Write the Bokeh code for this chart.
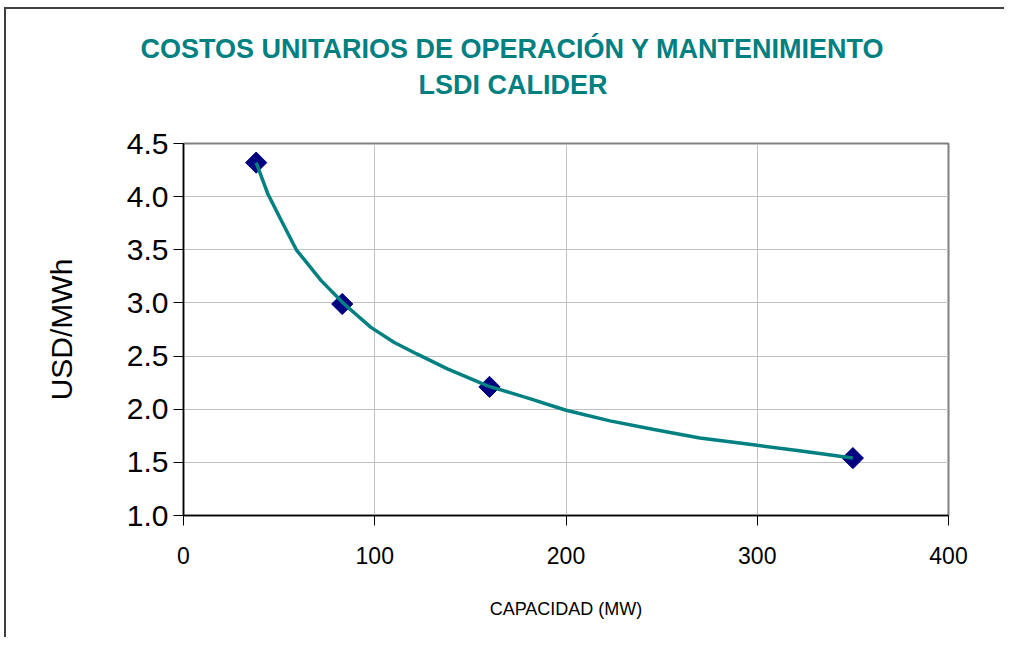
from bokeh.plotting import figure
from bokeh.models import Title, Range1d, FixedTicker, CustomJSTickFormatter
from bokeh.embed import file_html
from bokeh.resources import INLINE
import numpy as np

# Data
capacity_mw = [38, 83, 160, 350]
cost_usd_mwh = [4.32, 2.99, 2.21, 1.54]

# Smoothed trend curve
curve_x = [38, 44, 51, 59, 72, 84, 98, 110, 122, 138, 159, 181, 200, 223, 246, 270, 300, 322, 350]
curve_y = [4.32, 4.03, 3.78, 3.50, 3.21, 2.99, 2.77, 2.63, 2.52, 2.38, 2.22, 2.10, 1.99, 1.89,
           1.81, 1.73, 1.66, 1.61, 1.54]

x_ticks = [0, 100, 200, 300, 400]
y_ticks = [1.0, 1.5, 2.0, 2.5, 3.0, 3.5, 4.0, 4.5]

title_lines = ["COSTOS UNITARIOS DE OPERACIÓN Y MANTENIMIENTO", "LSDI CALIDER"]

TEAL = "#008080"
NAVY = "#000080"

ML, MT, MR, MB = 177, 134, 56, 122
FW, FH = 765, 372

p = figure(frame_width=FW, frame_height=FH,
           min_border_left=ML, min_border_top=MT, min_border_right=MR, min_border_bottom=MB,
           x_range=Range1d(0, 400), y_range=Range1d(1.0, 4.5),
           output_backend="svg", toolbar_location=None,
           background_fill_color="white", border_fill_color="white",
           styles={"border-top": "2px solid #404040", "border-left": "2px solid #404040",
                   "margin-left": "4px", "margin-top": "7px"})

p.outline_line_color = "#808080"
p.outline_line_width = 2

p.xaxis.ticker = FixedTicker(ticks=x_ticks)
p.yaxis.ticker = FixedTicker(ticks=y_ticks)
p.yaxis.formatter = CustomJSTickFormatter(code="return tick.toFixed(1);")

for ax in (p.xaxis, p.yaxis):
    ax.axis_line_color = "black"
    ax.axis_line_width = 1.5
    ax.major_tick_line_color = "black"
    ax.major_tick_line_width = 1
    ax.major_tick_out = 10
    ax.major_tick_in = 0
    ax.minor_tick_line_color = None
    ax.major_label_text_color = "black"
    ax.axis_label_text_color = "black"
    ax.axis_label_text_font_style = "normal"

p.yaxis.major_label_text_font = "Liberation Sans"
p.yaxis.major_label_text_font_size = "30px"
p.yaxis.major_label_standoff = 5
p.yaxis.axis_label = "USD/MWh"
p.yaxis.axis_label_text_font = "Liberation Sans"
p.yaxis.axis_label_text_font_size = "30px"
p.yaxis.axis_label_standoff = 46

p.xaxis.major_label_text_font = "Liberation Sans"
p.xaxis.major_label_text_font_size = "23px"
p.xaxis.major_label_standoff = 21
p.xaxis.axis_label = "CAPACIDAD (MW)"
p.xaxis.axis_label_text_font = "Liberation Sans"
p.xaxis.axis_label_text_font_size = "18px"
p.xaxis.axis_label_standoff = 32

p.xgrid.grid_line_color = "#c0c0c0"
p.ygrid.grid_line_color = "#c0c0c0"
p.xgrid.grid_line_width = 1
p.ygrid.grid_line_width = 1

p.scatter(capacity_mw, cost_usd_mwh, marker="square", angle=np.pi / 4, size=15,
          fill_color=NAVY, line_color=NAVY)
p.line(curve_x, curve_y, line_color=TEAL, line_width=3.5)

# Title: two lines stacked above the frame (first added sits nearest the frame)
for txt, off, stand in [(title_lines[1], 235, 88), (title_lines[0], -43, -81)]:
    p.add_layout(Title(text=txt, align="left", offset=off, standoff=stand,
                       text_font="Liberation Sans", text_font_style="bold",
                       text_font_size="27px", text_color=TEAL), "above")

open("out.html", "w").write(file_html(p, INLINE))
